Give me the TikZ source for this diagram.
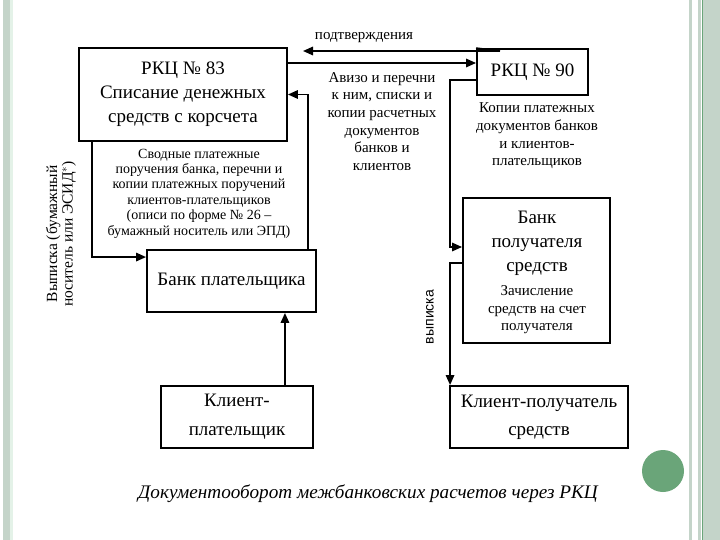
\documentclass[tikz,border=0pt]{standalone}
\usepackage{fontspec}
\setmainfont{Liberation Serif}
\newfontfamily\labelsans{Liberation Sans}
\usetikzlibrary{arrows.meta,positioning,calc}
\definecolor{slidegray}{RGB}{196,212,201}
\definecolor{slidegreen}{RGB}{106,165,121}
\definecolor{slidemint}{RGB}{228,242,232}

\begin{document}
\begin{tikzpicture}[x=1pt, y=-1pt,
    % box and text styles
    box/.style={rectangle, draw=black, line width=1.9pt, inner sep=0pt, align=center, font=\fontsize{19}{24}\selectfont},
    boxtext/.style={inner sep=0pt, align=center, font=\fontsize{19}{24}\selectfont},
    note/.style={inner sep=0pt, align=center, font=\fontsize{15}{17.6}\selectfont},
    smallnote/.style={inner sep=0pt, align=center, font=\fontsize{14}{15.4}\selectfont},
    flow/.style={-{Triangle[length=10pt,width=8.5pt]}, line width=1.6pt},
    plain/.style={line width=1.6pt}
]
\useasboundingbox (0,0) rectangle (720,540);
\fill[white] (0,0) rectangle (720,540);

% Slide frame
\fill[slidegray] (3,0) rectangle (10,540);
\fill[slidemint] (10,0) rectangle (13,540);
\fill[slidegray] (689,0) rectangle (692,540);
\fill[slidegray] (698,0) rectangle (701,540);
\fill[slidegray] (703,0) rectangle (720,540);
\draw[slidegreen, line width=1pt] (702,0) -- (702,540);
\fill[slidegreen] (663,471) circle (21);

% Boxes
\node[box, minimum width=208pt, minimum height=93pt] (rkcA) at (183,94.5) {РКЦ № 83\\Списание денежных\\средств с корсчета};
\node[box, minimum width=111pt, minimum height=46pt] (rkcB) at (532.5,72) {РКЦ № 90};
\node[box, minimum width=169pt, minimum height=62pt] (bankP) at (231.5,281) {Банк плательщика};
\node[box, minimum width=147pt, minimum height=145pt] (bankR) at (536.5,270.5) {};
\node[boxtext] (bankRname) at (537,243) {Банк\\получателя\\средств};
\node[note] (bankRnote) at (537,310) {Зачисление\\средств на счет\\получателя};
\node[box, minimum width=152pt, minimum height=62pt, font=\fontsize{19}{29}\selectfont] (clientP) at (237,417) {Клиент-\\плательщик};
\node[box, minimum width=178pt, minimum height=62pt, font=\fontsize{19}{28}\selectfont] (clientR) at (539,417) {Клиент-получатель\\средств};

% Labels
\node[note] (confLabel) at (364,38) {подтверждения};
\node[note] (avizoLabel) at (382,121.5) {Авизо и перечни\\к ним, списки и\\копии расчетных\\документов\\банков и\\клиентов};
\node[note] (copyLabel) at (537,136) {Копии платежных\\документов банков\\и клиентов-\\плательщиков};
\node[smallnote] (svodLabel) at (199,193.5) {Сводные платежные\\поручения банка, перечни и\\копии платежных поручений\\клиентов-плательщиков\\(описи по форме № 26 --\\бумажный носитель или ЭПД)};
\node[smallnote, rotate=90, font=\fontsize{15.5}{15.5}\selectfont] (extractA) at (61,234) {Выписка (бумажный\\носитель или ЭСИД$^{*}$)};
\node[inner sep=0pt, rotate=90, font=\labelsans\fontsize{14}{16}\selectfont] (extractB) at (430,317) {выписка};

% Caption
\node[inner sep=0pt, font=\itshape\fontsize{19.2}{24}\selectfont] (caption) at (368,494) {Документооборот межбанковских расчетов через РКЦ};

% Connectors
\coordinate (confStart) at (500,51);
\coordinate (confEnd) at (303,51);
\draw[flow] (confStart) -- (confEnd);
\draw[plain] (rkcB.north west) -- (confStart);

\coordinate (avizoIn) at ([yshift=9pt]rkcB.west);
\draw[flow] (avizoIn -| rkcA.east) -- (avizoIn);

\draw[flow] ([xshift=-9pt]bankP.north east) |- (rkcA.east);
\draw[flow] ([xshift=14pt]rkcA.south west) |- ([yshift=-8pt]bankP.north west);

\coordinate (payIn) at ([xshift=-29pt]clientP.north east);
\draw[flow] (payIn) -- (payIn |- bankP.south);

\coordinate (recvIn) at ([yshift=23.5pt]bankR.west);
\draw[flow] ([yshift=-8pt]rkcB.west) -| ([xshift=-12pt]recvIn) -- (recvIn);
\draw[flow] ([yshift=7.5pt]bankR.west) -| ([xshift=1pt]clientR.north west);

\end{tikzpicture}
\end{document}
